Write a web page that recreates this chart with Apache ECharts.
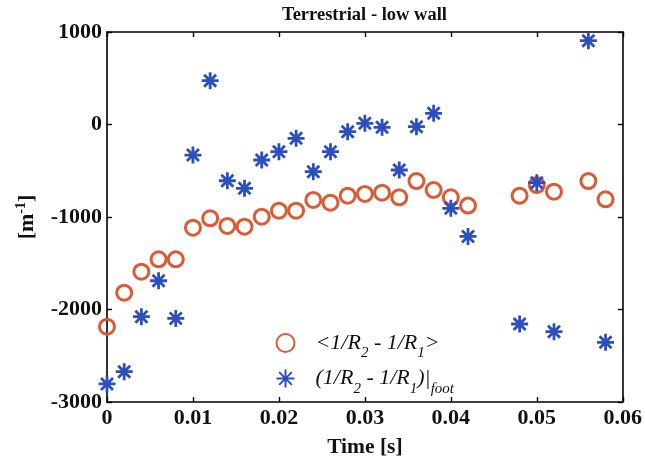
<!DOCTYPE html>
<html><head><meta charset="utf-8">
<script src="https://cdn.jsdelivr.net/npm/echarts@6/dist/echarts.min.js"></script>
<style>html,body{margin:0;padding:0;background:#fff}#c{width:645px;height:463px}</style>
</head><body><div id="c"></div>
<script>
const timeVals = [0,0.002,0.004,0.006,0.008,0.010,0.012,0.014,0.016,0.018,0.020,0.022,0.024,0.026,0.028,0.030,0.032,0.034,0.036,0.038,0.040,0.042,0.048,0.050,0.052,0.056,0.058];
const meanCurv = [-2186,-1818,-1591,-1458,-1458,-1115,-1014,-1097,-1105,-997,-932,-932,-816,-845,-770,-751,-737,-787,-611,-708,-787,-877,-770,-655,-726,-611,-809];
const footCurv = [-2805,-2672,-2078,-1689,-2096,-330,474,-608,-690,-384,-294,-149,-510,-294,-78,13,-30,-492,-24,121,-906,-1210,-2157,-629,-2240,906,-2355];
const xTicks = {min:0,max:0.06,interval:0.01};
const yTicks = {min:-3000,max:1000,interval:1000};

const serif = 'Liberation Serif';
const pair = (xs, ys) => xs.map((x,i)=>[x,ys[i]]);
const star = 'path://M0,-10L0,10M-10,0L10,0M-7.07,-7.07L7.07,7.07M-7.07,7.07L7.07,-7.07';
const red = '#DC5A34', blue = '#2C4FC0';
const axisLine = {show:true,onZero:false,lineStyle:{color:'#000',width:1.6}};
const ticks = {show:true,inside:true,length:5,lineStyle:{color:'#000',width:1.4}};
const plain = v => String(v);
const chart = echarts.init(document.getElementById('c'));
const leg = {
  i:{fontFamily:serif,fontStyle:'italic',fontSize:22,color:'#111',lineHeight:28,verticalAlign:'middle'},
  s:{fontFamily:serif,fontStyle:'italic',fontSize:15,color:'#111',lineHeight:28,verticalAlign:'bottom',padding:[0,0,-4,0]}
};
chart.setOption({
  animation:false,
  backgroundColor:'#fff',
  title:{text:'Terrestrial - low wall',left:277,top:1,
    textStyle:{fontFamily:serif,fontWeight:'bold',fontSize:18.5,color:'#111'}},
  grid:{left:107,right:20,top:32,bottom:61},
  xAxis:[
    {type:'value',position:'bottom',min:xTicks.min,max:xTicks.max,interval:xTicks.interval,
     name:'Time [s]',nameLocation:'middle',nameGap:34,
     nameTextStyle:{fontFamily:serif,fontWeight:'bold',fontSize:21.5,color:'#111'},
     axisLine:axisLine,axisTick:ticks,splitLine:{show:false},
     axisLabel:{fontFamily:serif,fontWeight:'bold',fontSize:22,color:'#111',margin:5,formatter:plain}},
    {type:'value',position:'top',min:xTicks.min,max:xTicks.max,interval:xTicks.interval,
     axisLine:axisLine,axisTick:ticks,splitLine:{show:false},axisLabel:{show:false}}
  ],
  yAxis:[
    {type:'value',position:'left',min:yTicks.min,max:yTicks.max,interval:yTicks.interval,
     name:'{a|[m}{b|-1}{a|]}',nameLocation:'middle',nameGap:67,nameRotate:90,
     nameTextStyle:{rich:{
       a:{fontFamily:serif,fontWeight:'bold',fontSize:22,color:'#111',lineHeight:26,verticalAlign:'middle'},
       b:{fontFamily:serif,fontWeight:'bold',fontSize:14,color:'#111',lineHeight:26,verticalAlign:'top'}}},
     axisLine:axisLine,axisTick:ticks,splitLine:{show:false},
     axisLabel:{fontFamily:serif,fontWeight:'bold',fontSize:22,color:'#111',margin:5,formatter:plain}},
    {type:'value',position:'right',min:yTicks.min,max:yTicks.max,interval:yTicks.interval,
     axisLine:axisLine,axisTick:ticks,splitLine:{show:false},axisLabel:{show:false}}
  ],
  legend:{orient:'vertical',left:269,top:327,itemGap:6,itemWidth:50,itemHeight:18,
    data:['mean','foot'],
    formatter:function(n){
      return n==='mean' ? '{i|<1/R}{s|2}{i| - 1/R}{s|1}{i|>}' : '{i|(1/R}{s|2}{i| - 1/R}{s|1}{i|)|}{s|foot}';
    },
    textStyle:{rich:leg}},
  series:[
    {name:'mean',type:'scatter',data:pair(timeVals,meanCurv),symbol:'circle',symbolSize:15,
     itemStyle:{color:'rgba(0,0,0,0)',borderColor:red,borderWidth:3,opacity:1}},
    {name:'foot',type:'scatter',data:pair(timeVals,footCurv),symbol:star,symbolSize:17,
     itemStyle:{color:'none',borderColor:blue,borderWidth:2.8,opacity:1}}
  ]
});
</script></body></html>
